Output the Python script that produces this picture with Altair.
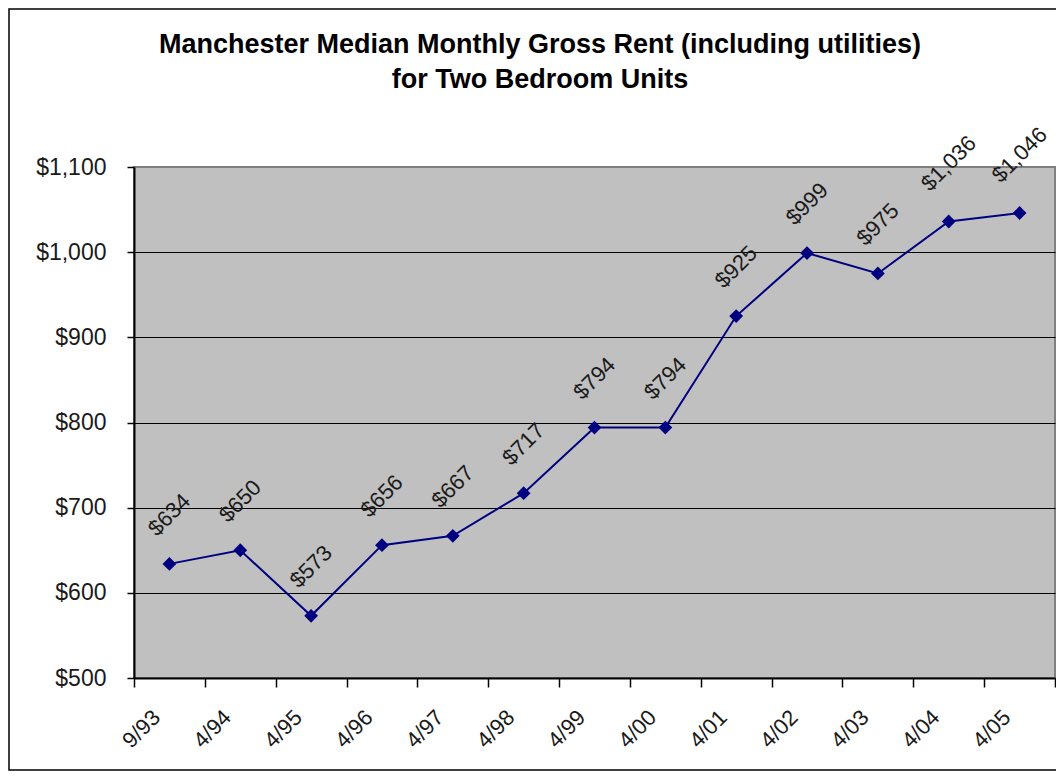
import altair as alt
import pandas as pd

categories = ["9/93", "4/94", "4/95", "4/96", "4/97", "4/98", "4/99",
              "4/00", "4/01", "4/02", "4/03", "4/04", "4/05"]
rents = [634, 650, 573, 656, 667, 717, 794, 794, 925, 999, 975, 1036, 1046]
y_ticks = [500, 600, 700, 800, 900, 1000, 1100]
title_lines = ["Manchester Median Monthly Gross Rent (including utilities)",
               "for Two Bedroom Units"]

df = pd.DataFrame({
    "idx": list(range(len(categories))),
    "cat": categories,
    "rent": rents,
    "label": ["$" + format(v, ",") for v in rents],
})

W, H = 921, 511
n = len(categories)
FONT = "Liberation Sans"
NAVY = "#000080"
TXT = "#1a1a1a"

x_scale = alt.Scale(domain=[-0.5, n - 0.5], nice=False, zero=False)
y_scale = alt.Scale(domain=[500, 1100], nice=False, zero=False)
boundaries = [i - 0.5 for i in range(n + 1)]

x_axis = alt.Axis(values=boundaries, labels=False, title=None, ticks=True,
                  tickSize=9, tickColor="black", tickWidth=1.5,
                  domainColor="black", domainWidth=2, grid=False)
y_axis = alt.Axis(values=y_ticks, format="$,d", title=None, grid=True,
                  gridColor=alt.condition("datum.value == 1100",
                                          alt.value("#808080"), alt.value("black")),
                  gridWidth=1.2, tickSize=7, tickColor="black", tickWidth=1.5,
                  domainColor="black", domainWidth=2,
                  labelFont=FONT, labelFontSize=23, labelColor=TXT,
                  labelPadding=21)

base = alt.Chart(df)

line = base.mark_line(color=NAVY, strokeWidth=2).encode(
    x=alt.X("idx:Q", scale=x_scale, axis=x_axis),
    y=alt.Y("rent:Q", scale=y_scale, axis=y_axis),
)

points = base.mark_point(shape="diamond", filled=True, size=190,
                         color=NAVY, opacity=1).encode(
    x=alt.X("idx:Q", scale=x_scale),
    y=alt.Y("rent:Q", scale=y_scale),
)

labels = base.transform_calculate(
    r="31 + 4.5 * length(datum.label)"
).mark_text(angle=315, align="center", baseline="middle", font=FONT,
            fontSize=22, color=TXT).encode(
    x=alt.X("idx:Q", scale=x_scale),
    y=alt.Y("rent:Q", scale=y_scale),
    radius=alt.Radius("r:Q", scale=None),
    theta=alt.value(0),
    text="label:N",
)

xlabels = base.mark_text(angle=315, align="right", baseline="middle",
                         font=FONT, fontSize=22, color=TXT,
                         dx=-9, dy=-9).encode(
    x=alt.X("idx:Q", scale=x_scale),
    y=alt.value(H + 36),
    text="cat:N",
)

title = alt.Chart(alt.Data(values=[{}])).mark_text(
    text=title_lines, font=FONT, fontSize=27, fontWeight="bold",
    color="black", align="center", baseline="alphabetic", lineHeight=35
).encode(
    x=alt.value(406), y=alt.value(-114),
)

frame = alt.Chart(alt.Data(values=[{}])).mark_rect(
    fillOpacity=0, stroke="black", strokeWidth=1.5
).encode(
    x=alt.value(-125), x2=alt.value(W + 20),
    y=alt.value(-158), y2=alt.value(H + 92),
)

chart = alt.layer(frame, title, line, points, labels, xlabels).properties(
    width=W, height=H,
    padding={"left": 126, "top": 159, "right": 1, "bottom": 94},
    autosize=alt.AutoSizeParams(type="none"),
    background="white",
).configure_view(
    fill="#C0C0C0", stroke="#808080", strokeWidth=2
)

chart.save("out.html", embed_options={"renderer": "svg", "actions": False})
